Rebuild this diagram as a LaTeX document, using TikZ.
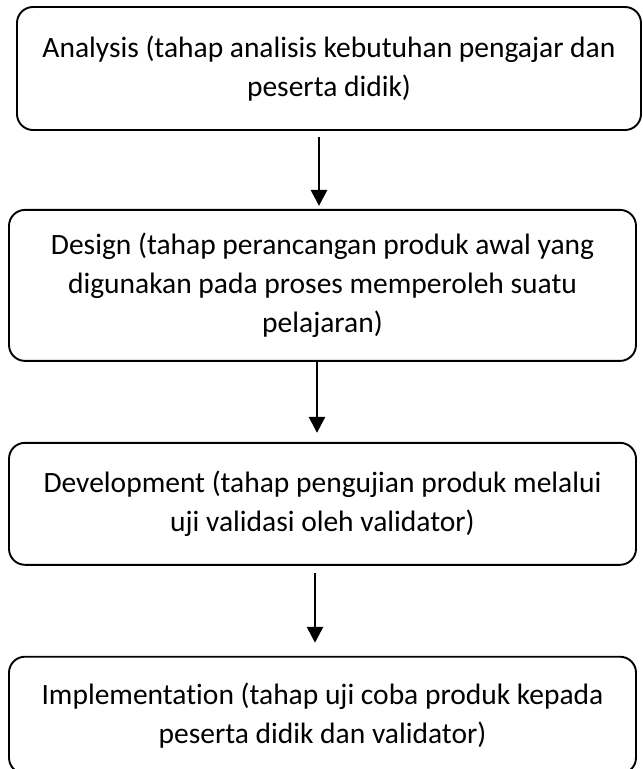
\documentclass[tikz,border=0pt]{standalone}
\usepackage{fontspec}
\setmainfont{Carlito}[Ligatures=NoCommon]
\usetikzlibrary{positioning,arrows.meta}

\begin{document}
\begin{tikzpicture}[x=1pt,y=1pt,
  box/.style={draw, line width=1.9pt, rounded corners=16pt, align=center, inner sep=0pt,
    minimum width=627, font=\fontsize{29.5}{39}\selectfont},
  flow/.style={line width=2.8pt, -{Triangle[length=16pt,width=16pt]}}]
\useasboundingbox (0,0) rectangle (643,-769);
\node [box, minimum width=624, minimum height=123] (analysis) at (329,-68.5) {Analysis (tahap analisis kebutuhan pengajar dan\\peserta didik)};
\node [box, minimum height=151, below=78pt of analysis, xshift=-6.5pt] (design) {Design (tahap perancangan produk awal yang\\digunakan pada proses memperoleh suatu\\pelajaran)};
\node [box, minimum height=122, below=80pt of design] (development) {Development (tahap pengujian produk melalui\\uji validasi oleh validator)};
\node [box, minimum height=117, below=90pt of development] (implementation) {Implementation (tahap uji coba produk kepada\\peserta didik dan validator)};
\draw [flow, shorten <=6pt, shorten >=3pt] ([xshift=-10pt]analysis.south) -- ([xshift=-3.5pt]design.north);
\draw [flow, shorten >=9pt] ([xshift=-5.5pt]design.south) -- ([xshift=-5.5pt]development.north);
\draw [flow, shorten <=7pt, shorten >=13pt] ([xshift=-7.5pt]development.south) -- ([xshift=-7.5pt]implementation.north);
\end{tikzpicture}
\end{document}
